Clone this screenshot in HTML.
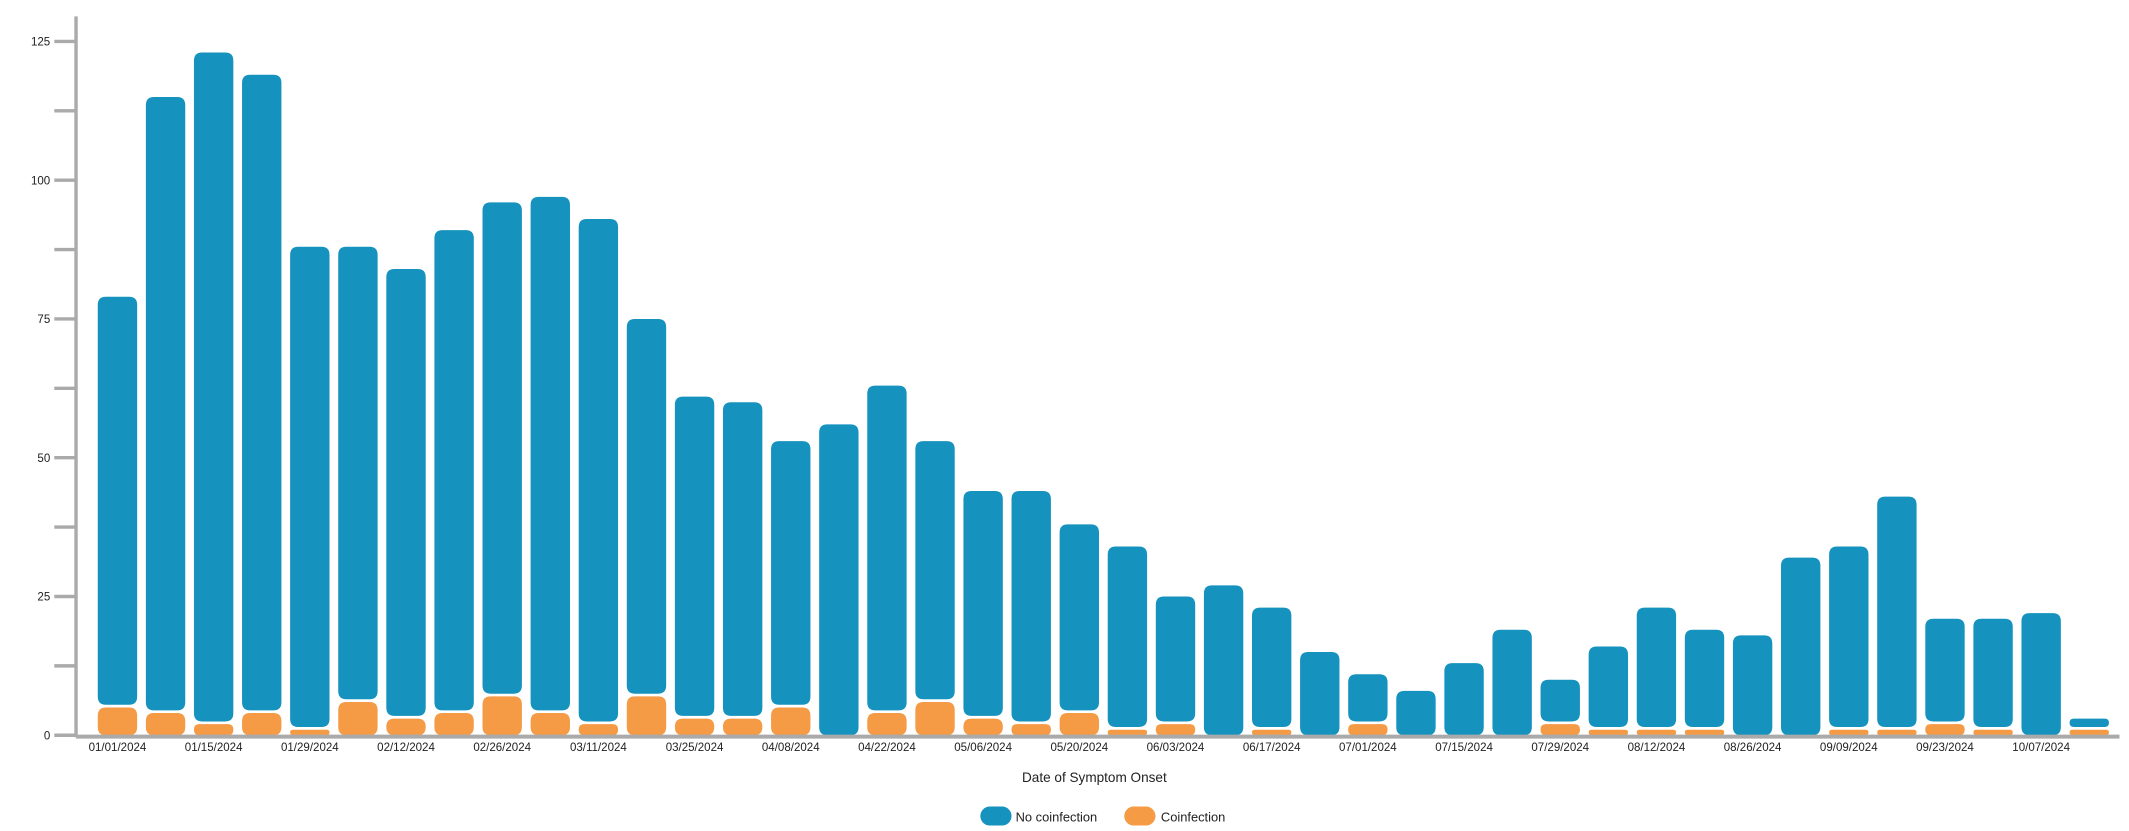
<!DOCTYPE html>
<html><head><meta charset="utf-8"><style>
html,body{margin:0;padding:0;background:#fff;}
svg{display:block;}
text{font-family:"Liberation Sans Narrow","Liberation Sans",sans-serif;fill:#222;}
</style></head><body>
<svg id="chart" width="2129" height="831" viewBox="0 0 1568 612" xmlns="http://www.w3.org/2000/svg">
<g id="yaxis"></g>
<g id="bars"></g>
<g id="xaxis"></g>
<text x="806" y="576" font-size="10" text-anchor="middle">Date of Symptom Onset</text>
<g>
<g>
<rect x="722" y="594" width="23" height="14" rx="7" fill="#1592bd"/>
<text x="748" y="605" font-size="9.5">No coinfection</text></g>
<g>
<rect x="828" y="594" width="23" height="14" rx="7" fill="#f59a45"/>
<text x="855" y="605" font-size="9.5">Coinfection</text></g>
</g>
</svg>
<script>
const weeks = ["01/01/2024","01/08/2024","01/15/2024","01/22/2024","01/29/2024","02/05/2024","02/12/2024","02/19/2024","02/26/2024","03/04/2024","03/11/2024","03/18/2024","03/25/2024","04/01/2024","04/08/2024","04/15/2024","04/22/2024","04/29/2024","05/06/2024","05/13/2024","05/20/2024","05/27/2024","06/03/2024","06/10/2024","06/17/2024","06/24/2024","07/01/2024","07/08/2024","07/15/2024","07/22/2024","07/29/2024","08/05/2024","08/12/2024","08/19/2024","08/26/2024","09/02/2024","09/09/2024","09/16/2024","09/23/2024","09/30/2024","10/07/2024","10/14/2024"];
const coinfection = [5,4,2,4,1,6,3,4,7,4,2,7,3,3,5,0,4,6,3,2,4,1,2,0,1,0,2,0,0,0,2,1,1,1,0,0,1,1,2,1,0,1];
const noCoinfection = [74,111,121,115,87,82,81,87,89,93,91,68,58,57,48,56,59,47,41,42,34,33,23,27,22,15,9,8,13,19,8,15,22,18,18,32,33,42,19,20,22,2];
const yTicks = [0,25,50,75,100,125];
const yMinor = [12.5,37.5,62.5,87.5,112.5];

const NS="http://www.w3.org/2000/svg";
const y0=541.5, pxPer=4.088, x0=68.8, step=35.42, bw=29;
function yScale(v){return y0 - v*pxPer;}
function xCenter(i){return x0 + step*(i+0.5);}
function mk(tag,attrs,parent){const e=document.createElementNS(NS,tag);for(const k in attrs)e.setAttribute(k,attrs[k]);parent.appendChild(e);return e;}
function rr(x,y,w,h,r){r=Math.min(r,w/2,h/2);return `M${x},${y+h}V${y+r}Q${x},${y} ${x+r},${y}H${x+w-r}Q${x+w},${y} ${x+w},${y+r}V${y+h-r}Q${x+w},${y+h} ${x+w-r},${y+h}H${x+r}Q${x},${y+h} ${x},${y+h-r}Z`;}

const ya=document.getElementById('yaxis');
const axl=mk('line',{x1:56,y1:12,x2:56,y2:543,stroke:'#aaa','stroke-width':2.5},ya);


yTicks.concat(yMinor).forEach(v=>{
  const t=mk('line',{x1:40,x2:55,y1:yScale(v),y2:yScale(v),stroke:'#aaa','stroke-width':2.5},ya);
  
  
});
yTicks.forEach(v=>{
  const t=mk('text',{x:37,y:yScale(v)+3,'font-size':8.5,'text-anchor':'end'},ya);
  t.textContent=v;
  
  
});

const bg=document.getElementById('bars');
weeks.forEach((w,i)=>{
  const xc=xCenter(i), x=xc-bw/2;
  const c=coinfection[i], n=noCoinfection[i];
  let base=y0;
  if(c>0){
    const top=yScale(c);
    const o=mk('path',{d:rr(x,top,bw,y0-top,6),fill:'#f59a45'},bg);
    
    
    base=top-2;
  }
  const top2=yScale(c+n);
  const b=mk('path',{d:rr(x,top2,bw,base-top2,6),fill:'#1592bd'},bg);
  
  
});

const xa=document.getElementById('xaxis');
const xl=mk('line',{x1:56,x2:1561,y1:542.5,y2:542.5,stroke:'#aaa','stroke-width':3},xa);


weeks.forEach((w,i)=>{
  if(i%2) return;
  const t=mk('text',{x:xCenter(i),y:553,'font-size':8.5,'text-anchor':'middle'},xa);
  t.textContent=w;
  
  
});
</script>
</body></html>
